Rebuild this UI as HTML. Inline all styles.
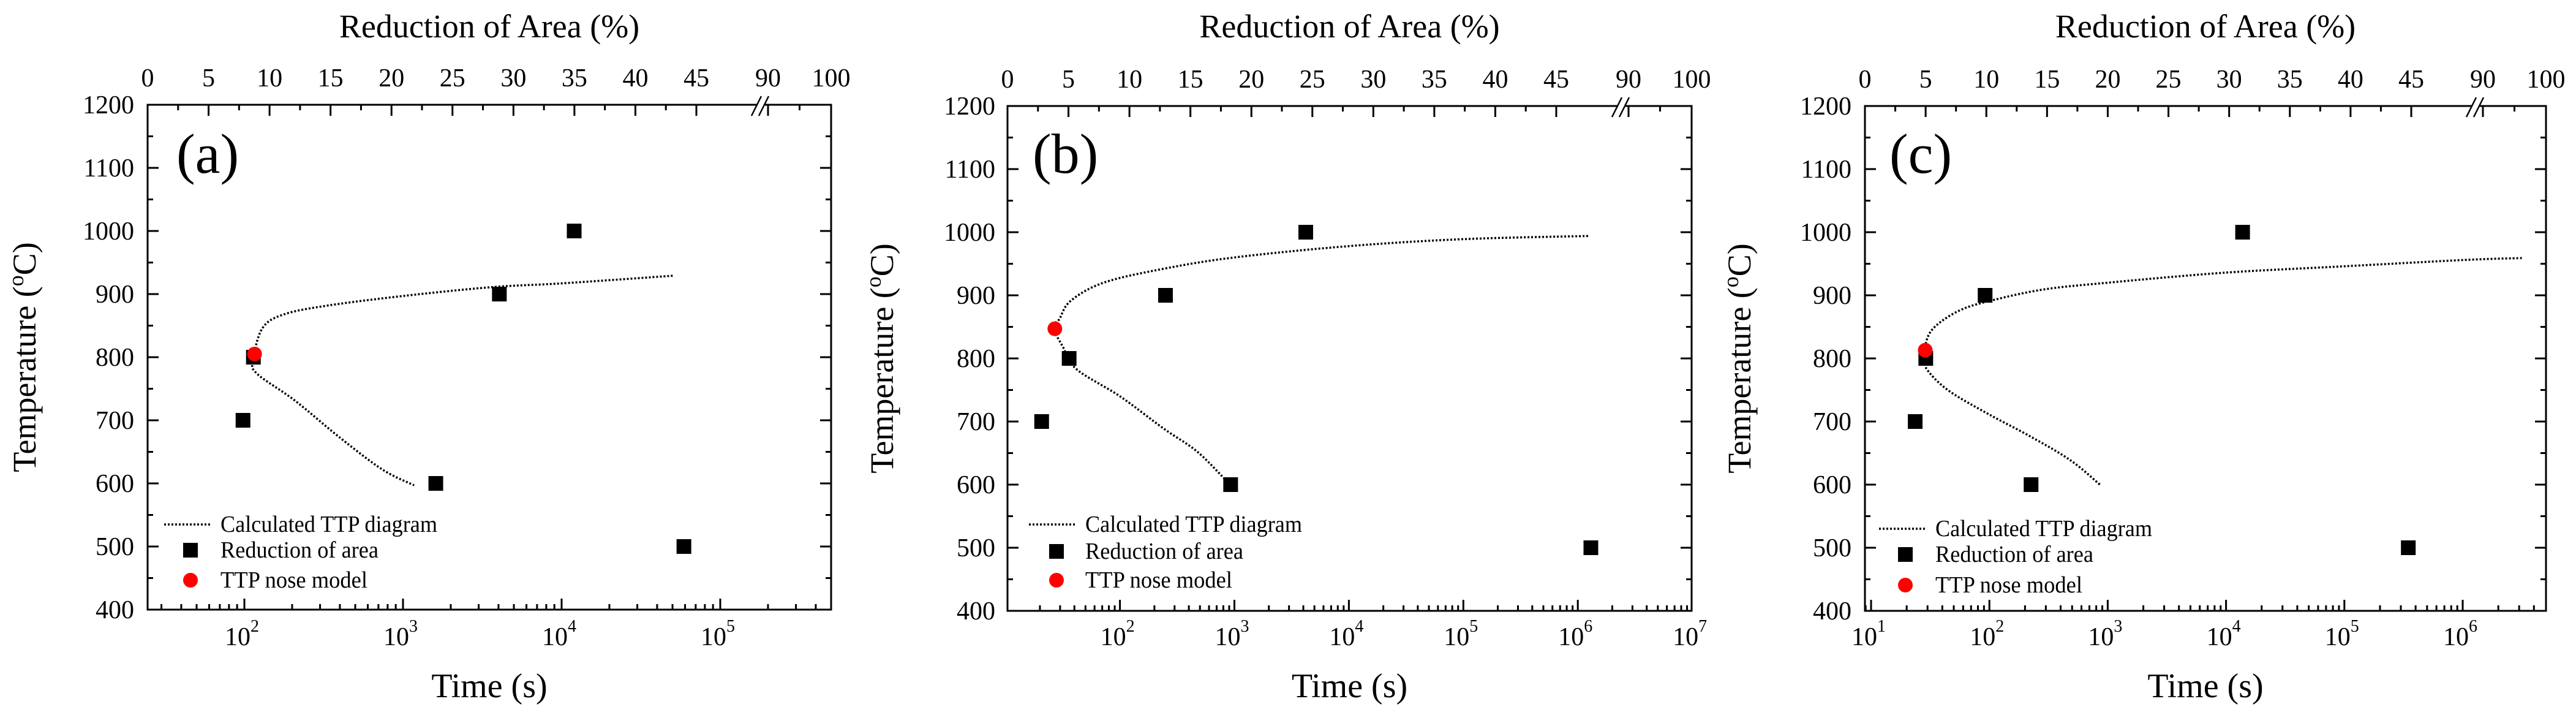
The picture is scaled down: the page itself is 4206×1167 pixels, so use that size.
<!DOCTYPE html>
<html><head><meta charset="utf-8"><style>
html,body{margin:0;padding:0;background:#fff;}
svg{display:block;font-family:"Liberation Serif",serif;}
</style></head><body>
<svg id="fig" width="4206" height="1167" viewBox="0 0 4206 1167" xmlns="http://www.w3.org/2000/svg"></svg>
<script>
// ---- data (time in s, temperature in C) ----
const aSquareTimes = [98, 114, 1610, 4050, 12000, 59000];
const aSquareTemps = [700, 800, 600, 900, 1000, 500];
const aNoseTime = [116];
const aNoseTemp = [805];
const aCurveTimes = [50100, 10000, 3630, 1000, 339, 178, 130, 114, 120, 209, 398, 741, 1175];
const aCurveTemps = [929, 917, 911, 897, 882, 868, 846, 796, 774, 731, 673, 622, 597];

const bSquareTimes = [20.7, 36, 250, 927, 4200, 1300000];
const bSquareTemps = [700, 800, 900, 600, 1000, 500];
const bNoseTime = [27];
const bNoseTemp = [847];
const bCurveTimes = [1230000, 100000, 10000, 1000, 240, 72, 37, 29.5, 26, 31.6, 41.7, 100, 240, 468, 813, 912];
const bCurveTemps = [994, 989, 978, 960, 942, 920, 891, 862, 850, 819, 783, 740, 689, 653, 610, 602];

const cSquareTimes = [23.6, 29, 92, 225, 13800, 347000];
const cSquareTemps = [700, 800, 900, 600, 1000, 500];
const cNoseTime = [28.7];
const cNoseTemp = [813];
const cCurveTimes = [3160000, 1020000, 100000, 10000, 1000, 282, 100, 57.5, 37, 30, 28, 31.6, 46.8, 100, 229, 490, 871];
const cCurveTemps = [959, 956, 946, 936, 920, 909, 891, 877, 855, 833, 797, 776, 747, 711, 675, 638, 599];

const yTickValues = [400, 500, 600, 700, 800, 900, 1000, 1100, 1200];
const topTickValues = [0, 5, 10, 15, 20, 25, 30, 35, 40, 45, 90, 100];

const NS = "http://www.w3.org/2000/svg";
const svg = document.getElementById('fig');
function mk(tag, attrs, parent) {
  const e = document.createElementNS(NS, tag);
  for (const k in attrs) e.setAttribute(k, attrs[k]);
  (parent || svg).appendChild(e);
  return e;
}
function smoothPath(P) {
  let d = 'M' + P[0][0].toFixed(1) + ',' + P[0][1].toFixed(1);
  for (let i = 0; i < P.length - 1; i++) {
    const p0 = P[Math.max(0, i - 1)], p1 = P[i], p2 = P[i + 1], p3 = P[Math.min(P.length - 1, i + 2)];
    const c1 = [p1[0] + (p2[0] - p0[0]) / 6, p1[1] + (p2[1] - p0[1]) / 6];
    const c2 = [p2[0] - (p3[0] - p1[0]) / 6, p2[1] - (p3[1] - p1[1]) / 6];
    d += ' C' + c1[0].toFixed(1) + ',' + c1[1].toFixed(1) + ' ' + c2[0].toFixed(1) + ',' + c2[1].toFixed(1) + ' ' + p2[0].toFixed(1) + ',' + p2[1].toFixed(1);
  }
  return d;
}

const panels = [
  {id:'a', L:241, R:1357, T:171, B:995, x0log:2, x0px:399, dec:259, decs:[2,3,4,5],
   top0:241, top45:1137, top90:1254, brk:1245, ylabX:219, tempX:40, label:'(a)', labX:288,
   legLine:[268,344,856], legText:360, legSq:[311,898], legRed:[311,947],
   sqT:aSquareTimes, sqV:aSquareTemps, nT:aNoseTime, nV:aNoseTemp, cT:aCurveTimes, cV:aCurveTemps},
  {id:'b', L:1645, R:2762, T:173, B:997, x0log:2, x0px:1828.6, dec:186.9, decs:[2,3,4,5,6,7],
   top0:1645, top45:2541, top90:2659, brk:2650, ylabX:1625, tempX:1440, label:'(b)', labX:1686,
   legLine:[1680,1757,856], legText:1772, legSq:[1725,900], legRed:[1725,947],
   sqT:bSquareTimes, sqV:bSquareTemps, nT:bNoseTime, nV:bNoseTemp, cT:bCurveTimes, cV:bCurveTemps},
  {id:'c', L:3045, R:4157, T:173, B:997, x0log:1, x0px:3055, dec:193.2, decs:[1,2,3,4,5,6],
   top0:3045, top45:3937, top90:4054, brk:4045, ylabX:3023, tempX:2840, label:'(c)', labX:3085,
   legLine:[3068,3144,863], legText:3160, legSq:[3111,905], legRed:[3111,955],
   sqT:cSquareTimes, sqV:cSquareTemps, nT:cNoseTime, nV:cNoseTemp, cT:cCurveTimes, cV:cCurveTemps}
];

panels.forEach(p => {
  const g = mk('g', {});
  
  
  const xs = t => p.x0px + (Math.log10(t) - p.x0log) * p.dec;
  const ys = v => p.T + (1200 - v) * (p.B - p.T) / 800;
  const sp = (p.top45 - p.top0) / 45;
  const xt = v => v <= 45 ? p.top0 + v * sp : (v <= 90 ? p.top45 + (v - 45) / 45 * (p.top90 - p.top45) : p.top90 + (v - 90) / 10 * (p.R - p.top90));

  // frame
  const fr = mk('rect', {x:p.L, y:p.T, width:p.R - p.L, height:p.B - p.T, fill:'none', stroke:'#000', 'stroke-width':3}, g);
  
  

  // y ticks
  const yax = mk('g', {}, g);
  
  
  for (let v = 400; v <= 1200; v += 50) {
    const y = ys(v), len = (v % 100 === 0) ? 18 : 9;
    mk('line', {x1:p.L, x2:p.L + len, y1:y, y2:y, stroke:'#000', 'stroke-width':3}, yax);
    mk('line', {x1:p.R, x2:p.R - len, y1:y, y2:y, stroke:'#000', 'stroke-width':3}, yax);
  }
  yTickValues.forEach(v => {
    const t = mk('text', {x:p.ylabX, y:ys(v) + 14, 'font-size':42, 'text-anchor':'end'}, yax);
    
    
    t.textContent = v;
  });
  const yt = mk('text', {x:0, y:0, 'font-size':54, 'text-anchor':'middle', transform:`translate(${p.tempX + 18},${(p.T + p.B) / 2}) rotate(-90)`}, g);
  
  
  yt.innerHTML = 'Temperature (<tspan font-size="36" dy="-20">o</tspan><tspan dy="20">C)</tspan>';

  // bottom log ticks
  const xax = mk('g', {}, g);
  
  
  for (let d = p.x0log - 2; d <= p.decs[p.decs.length - 1] + 1; d++) {
    for (let m = 1; m <= 9; m++) {
      const x = xs(m * Math.pow(10, d));
      if (x < p.L + 1 || x > p.R - 1) continue;
      const len = m === 1 ? 18 : 9;
      mk('line', {x1:x, x2:x, y1:p.B, y2:p.B - len, stroke:'#000', 'stroke-width':3}, xax);
    }
  }
  p.decs.forEach(d => {
    const x = xs(Math.pow(10, d));
    const t = mk('text', {x:x - 4, y:1053, 'font-size':42, 'text-anchor':'middle'}, xax);
    
    
    t.innerHTML = '10<tspan font-size="28" dy="-22">' + d + '</tspan>';
  });
  const xtit = mk('text', {x:(p.L + p.R) / 2, y:1138, 'font-size':56, 'text-anchor':'middle'}, g);
  
  
  xtit.textContent = 'Time (s)';

  // top axis
  const tax = mk('g', {}, g);
  
  
  topTickValues.forEach(v => {
    const x = xt(v);
    if (v < 100) mk('line', {x1:x, x2:x, y1:p.T, y2:p.T + 18, stroke:'#000', 'stroke-width':3}, tax);
    const t = mk('text', {x:x, y:p.T - 30, 'font-size':42, 'text-anchor':'middle'}, tax);
    
    
    t.textContent = v;
  });
  [2.5,7.5,12.5,17.5,22.5,27.5,32.5,37.5,42.5,95].forEach(v => {
    const x = xt(v);
    mk('line', {x1:x, x2:x, y1:p.T, y2:p.T + 9, stroke:'#000', 'stroke-width':3}, tax);
  });
  mk('rect', {x:p.brk - 8, y:p.T - 3, width:12, height:6, fill:'#fff'}, tax);
  const br = mk('g', {}, tax);
  
  
  mk('line', {x1:p.brk - 18, y1:p.T + 18, x2:p.brk - 2, y2:p.T - 14, stroke:'#000', 'stroke-width':2.5}, br);
  mk('line', {x1:p.brk - 6, y1:p.T + 18, x2:p.brk + 10, y2:p.T - 14, stroke:'#000', 'stroke-width':2.5}, br);
  const ttit = mk('text', {x:(p.L + p.R) / 2, y:61, 'font-size':54, 'text-anchor':'middle'}, g);
  
  
  ttit.textContent = 'Reduction of Area (%)';

  // panel label
  const pl = mk('text', {x:p.labX, y:282, 'font-size':92}, g);
  
  
  pl.textContent = p.label;

  // curve
  const P = p.cT.map((t, i) => [xs(t), ys(p.cV[i])]);
  const cv = mk('path', {d:smoothPath(P), fill:'none', stroke:'#000', 'stroke-width':3.5, 'stroke-dasharray':'3,3'}, g);
  
  

  // squares
  p.sqT.forEach((t, i) => {
    const r = mk('rect', {x:xs(t) - 12, y:ys(p.sqV[i]) - 12, width:24, height:24, fill:'#000'}, g);
    
    
  });
  // nose
  p.nT.forEach((t, i) => {
    const c = mk('circle', {cx:xs(t), cy:ys(p.nV[i]), r:12, fill:'#f00'}, g);
    
    
  });

  // legend
  const lg = mk('g', {}, g);
  
  
  mk('line', {x1:p.legLine[0], x2:p.legLine[1], y1:p.legLine[2], y2:p.legLine[2], stroke:'#000', 'stroke-width':3.5, 'stroke-dasharray':'3,3'}, lg);
  const l1 = mk('text', {x:p.legText, y:p.legLine[2] + 12, 'font-size':38, textLength:354, lengthAdjust:'spacingAndGlyphs'}, lg);
  
  
  l1.textContent = 'Calculated TTP diagram';
  mk('rect', {x:p.legSq[0] - 12, y:p.legSq[1] - 12, width:24, height:24, fill:'#000'}, lg);
  const l2 = mk('text', {x:p.legText, y:p.legSq[1] + 12, 'font-size':38, textLength:258, lengthAdjust:'spacingAndGlyphs'}, lg);
  
  
  l2.textContent = 'Reduction of area';
  mk('circle', {cx:p.legRed[0], cy:p.legRed[1], r:12, fill:'#f00'}, lg);
  const l3 = mk('text', {x:p.legText, y:p.legRed[1] + 12, 'font-size':38, textLength:240, lengthAdjust:'spacingAndGlyphs'}, lg);
  
  
  l3.textContent = 'TTP nose model';
});
</script>
</body></html>
